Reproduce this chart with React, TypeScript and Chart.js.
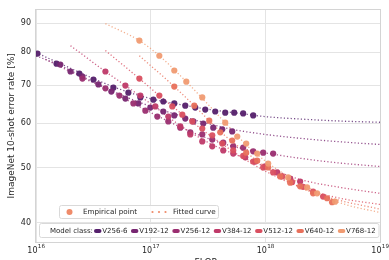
import { useEffect, useRef } from "react";
import { Chart, registerables } from "chart.js";

Chart.register(...registerables);

const FONT = "'DejaVu Sans', sans-serif";
const TEXT = "#262626";
const GRID = "#e4e4e4";

const MODEL_CLASSES = ["V256-6", "V192-12", "V256-12", "V384-12", "V512-12", "V640-12", "V768-12"];
const COLORS = ["#55206c", "#772671", "#9a2e70", "#bf3a69", "#d94f60", "#e8705b", "#f09b72"];
const LEGEND_MARK = "#ef8b6a";

const X_TICKS = [1e16, 1e17, 1e18, 1e19];
const X_EXP = ["16", "17", "18", "19"];
const Y_TICKS = [40, 50, 60, 70, 80, 90];

// Empirical points (FLOPs, error %)
const V256_6_FLOPS = [1.03e16, 1.51e16, 2.39e16, 3.17e16, 4.73e16, 6.39e16, 8.13e16, 1.055e17, 1.289e17, 1.607e17, 2.004e17, 2.449e17, 2.993e17, 3.658e17, 4.47e17, 5.35e17, 6.41e17, 7.84e17];
const V256_6_ERR = [79.6, 76.4, 73.4, 71.6, 69.3, 67.9, 66.6, 66.0, 65.5, 65.0, 64.4, 63.9, 63.4, 62.9, 62.6, 62.6, 62.4, 61.9];
const V192_12_FLOPS = [1.63e16, 2.0e16, 2.54e16, 3.5e16, 4.54e16, 6.02e16, 7.81e16, 9.93e16, 1.289e17, 1.607e17, 2.004e17, 2.353e17, 2.875e17, 3.514e17, 4.21e17, 5.14e17];
const V192_12_ERR = [76.1, 74.0, 72.5, 70.2, 68.2, 66.3, 65.0, 63.9, 62.9, 61.9, 61.1, 60.4, 59.9, 58.9, 58.5, 58.0];
const V256_12_FLOPS = [2.54e16, 4.03e16, 5.34e16, 7.07e16, 8.99e16, 1.143e17, 1.425e17, 1.813e17, 2.216e17, 2.818e17, 3.444e17, 4.295e17, 5.25e17, 6.41e17, 7.84e17, 9.58e17, 1.17e18];
const V256_12_ERR = [71.9, 69.1, 67.1, 65.0, 63.1, 61.6, 60.4, 58.9, 57.8, 57.3, 56.1, 55.4, 54.6, 54.3, 53.5, 53.2, 53.0];
const V384_12_FLOPS = [4.03e16, 6.02e16, 8.13e16, 1.098e17, 1.425e17, 1.813e17, 2.216e17, 2.818e17, 3.444e17, 4.295e17, 5.25e17, 6.68e17, 8.16e17, 9.97e17, 1.268e18, 1.646e18, 2.011e18];
const V384_12_ERR = [74.0, 69.9, 67.1, 64.2, 61.6, 59.2, 57.3, 55.7, 54.6, 53.7, 53.0, 52.2, 51.3, 50.3, 49.1, 47.9, 47.3];
const V512_12_FLOPS = [7.97e16, 1.19e17, 1.544e17, 1.887e17, 2.307e17, 2.818e17, 3.444e17, 4.21e17, 5.25e17, 6.41e17, 7.84e17, 9.58e17, 1.17e18, 1.402e18, 1.713e18, 2.135e18, 2.61e18, 3.189e18];
const V512_12_ERR = [71.9, 67.1, 64.2, 62.1, 60.4, 58.7, 57.1, 55.2, 53.7, 52.5, 51.3, 50.1, 49.1, 48.3, 47.2, 46.3, 45.4, 44.5];
const V640_12_FLOPS = [1.607e17, 2.401e17, 3.243e17, 4.045e17, 5.14e17, 6.81e17, 8.49e17, 1.059e18, 1.347e18, 1.646e18, 2.011e18, 2.61e18, 3.455e18, 3.82e18];
const V640_12_ERR = [69.6, 64.4, 60.6, 57.8, 55.9, 53.2, 51.5, 50.1, 48.3, 47.1, 46.4, 45.1, 44.2, 43.5];
const V768_12_FLOPS = [7.97e16, 1.19e17, 1.607e17, 2.045e17, 2.818e17, 4.47e17, 5.69e17, 6.81e17, 8.49e17, 1.059e18, 1.581e18, 2.314e18, 2.828e18, 4.057e18];
const V768_12_ERR = [83.9, 78.9, 74.3, 71.0, 66.6, 60.1, 56.8, 55.2, 53.0, 50.9, 48.1, 46.2, 45.1, 43.6];

// Fitted curves (FLOPs, error %)
const V256_6_FIT_FLOPS = [1e16, 1.63e16, 3.17e16, 5.44e16, 9.93e16, 1.813e17, 3.308e17, 6.04e17, 9.97e17, 2.011e18, 4.486e18, 1e19];
const V256_6_FIT_ERR = [79.9, 76.4, 71.9, 68.8, 66.3, 64.7, 63.4, 62.4, 61.6, 61.0, 60.5, 60.2];
const V192_12_FIT_FLOPS = [1e16, 1.63e16, 2.54e16, 4.54e16, 8.13e16, 1.484e17, 2.708e17, 5.14e17, 9.97e17, 2.011e18, 4.486e18, 1e19];
const V192_12_FIT_ERR = [78.9, 75.8, 72.5, 68.5, 65.2, 62.6, 60.4, 58.5, 57.3, 56.4, 55.6, 55.0];
const V256_12_FIT_FLOPS = [1.21e16, 2.54e16, 4.03e16, 7.07e16, 1.214e17, 2.216e17, 4.045e17, 7.38e17, 1.218e18, 2.011e18, 4.486e18, 1e19];
const V256_12_FIT_ERR = [77.7, 72.2, 69.1, 65.0, 61.4, 58.0, 55.4, 53.7, 52.8, 52.0, 51.0, 50.3];
const V384_12_FIT_FLOPS = [2.0e16, 4.03e16, 6.02e16, 9.93e16, 1.813e17, 3.308e17, 6.04e17, 1.102e18, 2.011e18, 4.486e18, 1e19];
const V384_12_FIT_ERR = [82.2, 74.0, 69.9, 65.0, 59.4, 55.2, 52.4, 49.9, 47.7, 46.2, 45.1];
const V512_12_FIT_FLOPS = [4.03e16, 7.97e16, 1.19e17, 2.216e17, 4.045e17, 7.38e17, 1.347e18, 2.458e18, 4.486e18, 1e19];
const V512_12_FIT_ERR = [80.6, 71.9, 67.1, 60.6, 55.4, 51.1, 47.9, 45.6, 44.2, 43.1];
const V640_12_FIT_FLOPS = [7.97e16, 1.607e17, 2.401e17, 4.045e17, 7.38e17, 1.347e18, 2.458e18, 4.486e18, 1e19];
const V640_12_FIT_ERR = [78.9, 69.6, 64.4, 58.0, 52.6, 48.3, 45.4, 43.8, 42.3];
const V768_12_FIT_FLOPS = [4.03e16, 7.97e16, 1.19e17, 2.045e17, 4.47e17, 7.38e17, 1.347e18, 2.458e18, 4.486e18, 1e19];
const V768_12_FIT_ERR = [89.9, 83.9, 78.9, 71.0, 60.1, 54.1, 49.3, 46.0, 43.4, 41.7];

const POINTS = [
  [V256_6_FLOPS, V256_6_ERR],
  [V192_12_FLOPS, V192_12_ERR],
  [V256_12_FLOPS, V256_12_ERR],
  [V384_12_FLOPS, V384_12_ERR],
  [V512_12_FLOPS, V512_12_ERR],
  [V640_12_FLOPS, V640_12_ERR],
  [V768_12_FLOPS, V768_12_ERR],
];
const FITS = [
  [V256_6_FIT_FLOPS, V256_6_FIT_ERR],
  [V192_12_FIT_FLOPS, V192_12_FIT_ERR],
  [V256_12_FIT_FLOPS, V256_12_FIT_ERR],
  [V384_12_FIT_FLOPS, V384_12_FIT_ERR],
  [V512_12_FIT_FLOPS, V512_12_FIT_ERR],
  [V640_12_FIT_FLOPS, V640_12_FIT_ERR],
  [V768_12_FIT_FLOPS, V768_12_FIT_ERR],
];

function zip(xs: number[], ys: number[]) {
  return xs.map((x, i) => ({ x, y: ys[i] }));
}

function hexA(hex: string, a: number) {
  const n = parseInt(hex.slice(1), 16);
  return `rgba(${(n >> 16) & 255},${(n >> 8) & 255},${n & 255},${a})`;
}

function roundRect(ctx: CanvasRenderingContext2D, x: number, y: number, w: number, h: number, r: number) {
  ctx.beginPath();
  ctx.moveTo(x + r, y);
  ctx.lineTo(x + w - r, y);
  ctx.arcTo(x + w, y, x + w, y + r, r);
  ctx.lineTo(x + w, y + h - r);
  ctx.arcTo(x + w, y + h, x + w - r, y + h, r);
  ctx.lineTo(x + r, y + h);
  ctx.arcTo(x, y + h, x, y + h - r, r);
  ctx.lineTo(x, y + r);
  ctx.arcTo(x, y, x + r, y, r);
  ctx.closePath();
}

const decorPlugin = {
  id: "decor",
  afterDatasetsDraw(chart: any) {
    const { ctx, chartArea: a } = chart;
    ctx.save();
    ctx.strokeStyle = "#d4d4d4";
    ctx.lineWidth = 1;
    ctx.strokeRect(Math.round(a.left) - 0.5, Math.round(a.top) - 0.5, Math.round(a.right - a.left) + 1, Math.round(a.bottom - a.top) + 1);
    ctx.restore();
  },
  afterDraw(chart: any) {
    const { ctx, chartArea: a } = chart;
    ctx.save();
    ctx.fillStyle = TEXT;
    ctx.textBaseline = "middle";

    // x tick labels 10^n
    const sx = chart.scales.x;
    X_TICKS.forEach((v, i) => {
      const px = sx.getPixelForValue(v);
      ctx.font = `8px ${FONT}`;
      const w1 = ctx.measureText("10").width;
      ctx.font = `5.6px ${FONT}`;
      const w2 = ctx.measureText(X_EXP[i]).width;
      const start = px - (w1 + w2) / 2;
      ctx.textAlign = "left";
      ctx.font = `8px ${FONT}`;
      ctx.fillText("10", start, 250.5);
      ctx.font = `5.6px ${FONT}`;
      ctx.fillText(X_EXP[i], start + w1 + 0.3, 246.5);
    });

    // axis titles
    ctx.font = `9px ${FONT}`;
    ctx.textAlign = "center";
    ctx.textBaseline = "top";
    ctx.fillText("FLOPs", (a.left + a.right) / 2, 258);
    ctx.save();
    ctx.translate(11.5, (a.top + a.bottom) / 2);
    ctx.rotate(-Math.PI / 2);
    ctx.textBaseline = "middle";
    ctx.fillText("ImageNet 10-shot error rate [%]", 0, 0);
    ctx.restore();

    // legend 1
    roundRect(ctx, 59.5, 205.5, 159, 13, 2);
    ctx.fillStyle = "rgba(255,255,255,0.85)";
    ctx.fill();
    ctx.strokeStyle = "#d9d9d9";
    ctx.lineWidth = 1;
    ctx.stroke();
    ctx.fillStyle = LEGEND_MARK;
    ctx.beginPath();
    ctx.arc(69.5, 212, 3, 0, Math.PI * 2);
    ctx.fill();
    for (const dx of [0, 6.5, 13]) {
      ctx.beginPath();
      ctx.arc(152.5 + dx, 212, 1.1, 0, Math.PI * 2);
      ctx.fill();
    }
    ctx.fillStyle = TEXT;
    ctx.font = `7.2px ${FONT}`;
    ctx.textAlign = "left";
    ctx.textBaseline = "middle";
    ctx.fillText("Empirical point", 83, 212.5);
    ctx.fillText("Fitted curve", 173, 212.5);

    // legend 2
    roundRect(ctx, 39.5, 223.5, 339.5, 14, 2);
    ctx.fillStyle = "rgba(255,255,255,0.85)";
    ctx.fill();
    ctx.strokeStyle = "#d9d9d9";
    ctx.stroke();
    ctx.font = `7px ${FONT}`;
    ctx.fillStyle = TEXT;
    let x = 50;
    const cy = 231;
    ctx.fillText("Model class:", x, cy);
    x += ctx.measureText("Model class:").width + 1;
    MODEL_CLASSES.forEach((name, i) => {
      ctx.strokeStyle = COLORS[i];
      ctx.lineWidth = 4;
      ctx.lineCap = "round";
      ctx.beginPath();
      ctx.moveTo(x + 2, cy);
      ctx.lineTo(x + 5.5, cy);
      ctx.stroke();
      x += 7.5 + 0.8;
      ctx.fillStyle = TEXT;
      ctx.fillText(name, x, cy);
      x += ctx.measureText(name).width + 3.5;
    });
    ctx.restore();
  },
};

export default function App() {
  const ref = useRef<HTMLCanvasElement | null>(null);

  useEffect(() => {
    if (!ref.current) return;
    const datasets: any[] = [];
    FITS.forEach(([xs, ys], i) => {
      datasets.push({
        label: MODEL_CLASSES[i] + " fit",
        data: zip(xs, ys),
        showLine: true,
        borderColor: hexA(COLORS[i], 0.8),
        borderWidth: 1.3,
        borderDash: [1.2, 2.2],
        pointRadius: 0,
        fill: false,
        cubicInterpolationMode: "monotone",
        order: 20 - i,
      });
    });
    POINTS.forEach(([xs, ys], i) => {
      datasets.push({
        label: MODEL_CLASSES[i],
        data: zip(xs, ys),
        showLine: false,
        pointRadius: 3.1,
        pointBackgroundColor: hexA(COLORS[i], 0.95),
        pointBorderWidth: 0,
        order: 10 - i,
      });
    });

    const chart = new Chart(ref.current, {
      type: "scatter",
      data: { datasets },
      options: {
        animation: false,
        responsive: false,
        events: [],
        layout: { padding: { top: 9, right: 9, left: 0, bottom: 0 } },
        plugins: { legend: { display: false }, tooltip: { enabled: false } },
        scales: {
          x: {
            type: "logarithmic",
            min: 1e16,
            max: 1e19,
            afterBuildTicks: (s: any) => {
              s.ticks = X_TICKS.map((value) => ({ value }));
            },
            afterFit: (s: any) => {
              s.height = 18;
            },
            ticks: { display: false },
            grid: { color: GRID, lineWidth: 1, drawTicks: false },
            border: { display: false },
          },
          y: {
            type: "logarithmic",
            min: 37,
            max: 95.1,
            afterBuildTicks: (s: any) => {
              s.ticks = Y_TICKS.map((value) => ({ value }));
            },
            afterFit: (s: any) => {
              s.width = 36;
            },
            ticks: {
              font: { family: FONT, size: 8 },
              color: TEXT,
              padding: 5,
              autoSkip: false,
              callback: (v: any) => String(v),
            },
            grid: { color: GRID, lineWidth: 1, drawTicks: false },
            border: { display: false },
          },
        },
      } as any,
      plugins: [decorPlugin],
    });
    return () => chart.destroy();
  }, []);

  return (
    <div style={{ position: "absolute", left: 0, top: 0, width: 389, height: 260, background: "#fff" }}>
      <canvas ref={ref} width={389} height={260} />
    </div>
  );
}
